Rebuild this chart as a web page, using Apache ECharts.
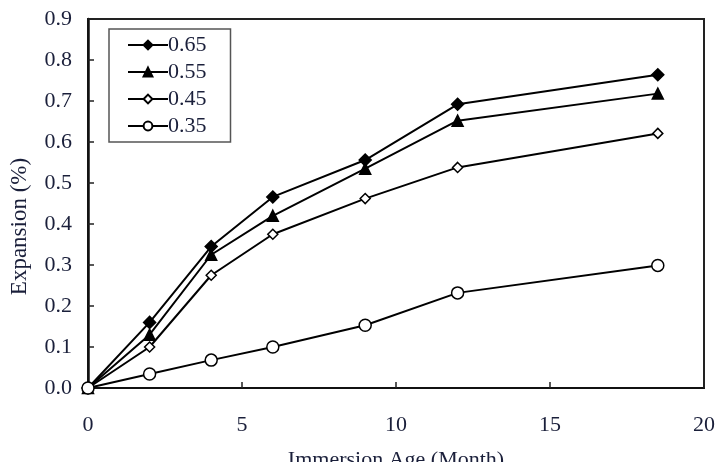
<!DOCTYPE html>
<html>
<head>
<meta charset="utf-8">
<script src="https://cdn.jsdelivr.net/npm/echarts@6/dist/echarts.min.js"></script>
<style>
html,body{margin:0;padding:0;background:#fff;}
#chart{width:719px;height:462px;}
</style>
</head>
<body>
<div id="chart"></div>
<script>
var ages = [0, 2, 4, 6, 9, 12, 18.5];
var s065 = [0, 0.16, 0.345, 0.466, 0.556, 0.692, 0.764];
var s055 = [0, 0.13, 0.325, 0.42, 0.535, 0.652, 0.718];
var s045 = [0, 0.10, 0.275, 0.375, 0.462, 0.538, 0.621];
var s035 = [0, 0.034, 0.068, 0.10, 0.153, 0.232, 0.299];
var names = ['0.65', '0.55', '0.45', '0.35'];

function pairs(vals) {
	var out = [];
	for (var i = 0; i < ages.length; i++) out.push([ages[i], vals[i]]);
	return out;
}

var font = '"Liberation Serif", "DejaVu Serif", serif';
var txt = '#1a1f3a';
var myChart = echarts.init(document.getElementById('chart'));

function mkSeries(name, vals, symbol, size, fill) {
	return {
		name: name,
		type: 'line',
		data: pairs(vals),
		symbol: symbol,
		symbolSize: size,
		showAllSymbol: true,
		color: '#000',
		lineStyle: { color: '#000', width: 2 },
		itemStyle: { color: fill, borderColor: '#000', borderWidth: 1.5 },
		emphasis: { disabled: true },
		z: 3
	};
}

var option = {
	animation: false,
	backgroundColor: '#fff',
	grid: {
		left: 88, right: 15, top: 19, bottom: 74,
		outerBoundsMode: 'none', containLabel: false,
		show: true, borderColor: '#222', borderWidth: 2
	},
	legend: {
		orient: 'vertical',
		left: 109,
		top: 29,
		data: names,
		itemWidth: 40,
		itemHeight: 11,
		itemGap: 5,
		padding: [5, 24, 5, 18],
		borderColor: '#555',
		borderWidth: 1.5,
		borderRadius: 0,
		textStyle: { fontFamily: font, fontSize: 22, color: txt, padding: [0, 0, 0, -5] }
	},
	xAxis: {
		type: 'value',
		min: 0,
		max: 20,
		interval: 5,
		name: 'Immersion Age (Month)',
		nameLocation: 'middle',
		nameGap: 61,
		nameTextStyle: { fontFamily: font, fontSize: 22, color: txt },
		axisLine: { onZero: false, lineStyle: { color: '#111', width: 2 } },
		axisTick: { inside: true, length: 6, lineStyle: { color: '#222', width: 1.5 } },
		axisLabel: { fontFamily: font, fontSize: 22, color: txt, margin: 26 },
		splitLine: { show: false }
	},
	yAxis: {
		type: 'value',
		min: 0,
		max: 0.9,
		interval: 0.1,
		name: 'Expansion (%)',
		nameLocation: 'middle',
		nameGap: 57,
		nameTextStyle: { fontFamily: font, fontSize: 23, color: txt, padding: [0, 46, 0, 0] },
		axisLine: { lineStyle: { color: '#111', width: 2.5 } },
		axisTick: { inside: true, length: 6, lineStyle: { color: '#222', width: 1.5 } },
		axisLabel: {
			fontFamily: font, fontSize: 22, color: txt, margin: 16,
			formatter: function(v) { return v.toFixed(1); }
		},
		splitLine: { show: false }
	},
	series: [
		mkSeries('0.65', s065, 'diamond', 12, '#000'),
		mkSeries('0.55', s055, 'triangle', 11, '#000'),
		mkSeries('0.45', s045, 'diamond', 10, '#fff'),
		mkSeries('0.35', s035, 'circle', 12, '#fff')
	]
};
myChart.setOption(option);
</script>
</body>
</html>
